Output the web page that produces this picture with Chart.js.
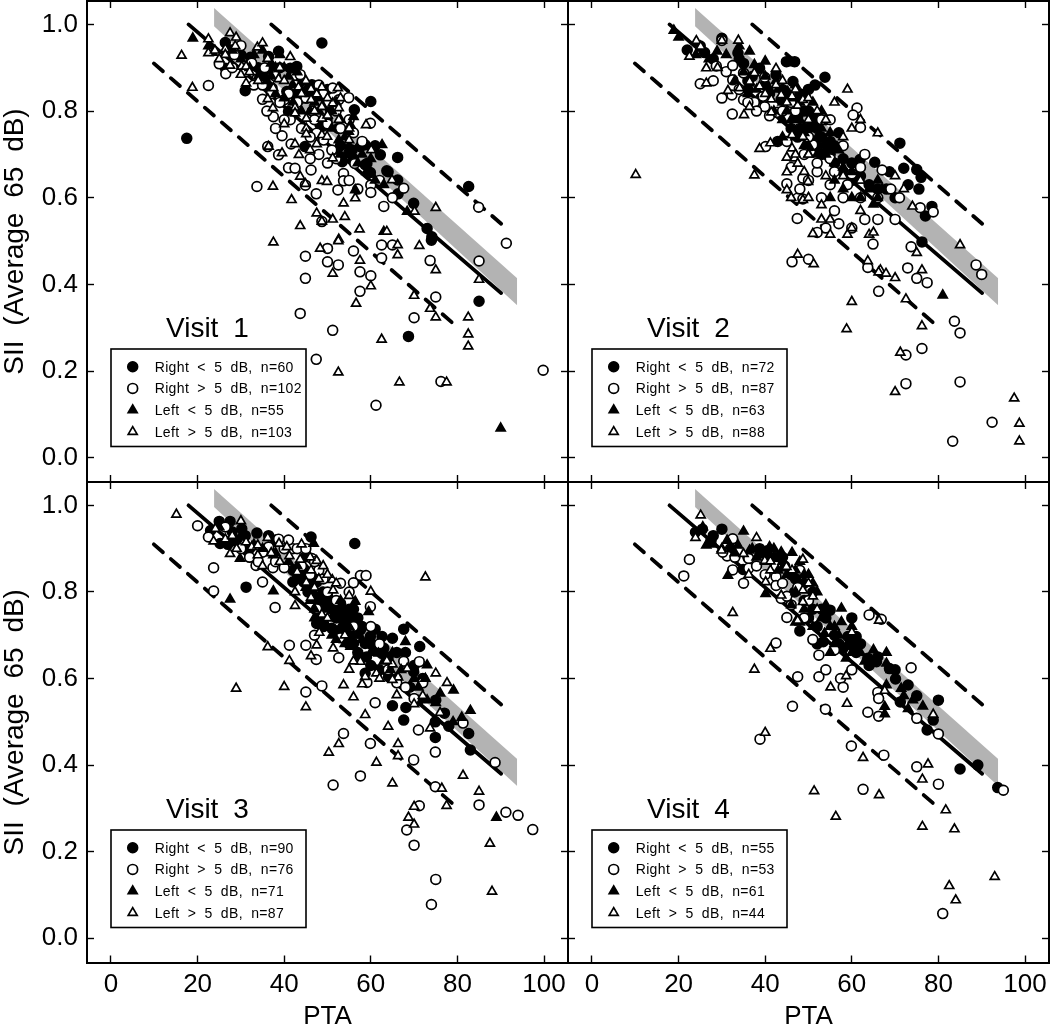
<!DOCTYPE html>
<html>
<head>
<meta charset="utf-8">
<title>SII vs PTA</title>
<script src="https://cdn.jsdelivr.net/npm/chart.js@4/dist/chart.umd.js"></script>
<style>
  html, body { margin: 0; padding: 0; background: #fff; overflow: hidden; width: 1050px; height: 1025px; }
  canvas { position: absolute; }
</style>
</head>
<body>
<canvas id="visit1"></canvas>
<canvas id="visit2"></canvas>
<canvas id="visit3"></canvas>
<canvas id="visit4"></canvas>
<script>
// tick labels
const xTicks = [0, 20, 40, 60, 80, 100];
const yTicks = [0, 0.2, 0.4, 0.6, 0.8, 1.0];

// reference lines, same on all four panels
const solidLine = [[17.9, 1.0], [90.1, 0.38]];
const upperDash = [[37, 1.0], [90.1, 0.54]];
const lowerDash = [[9.9, 0.91], [79, 0.31]];
const bandUpper = [[23.8, 1.038], [93.8, 0.414]];
const bandLower = [[23.8, 0.996], [93.8, 0.352]];

// legend text
const legendNames = ["Right < 5 dB", "Right > 5 dB", "Left < 5 dB", "Left > 5 dB"];
const v1Counts = [60, 102, 55, 103];
const v2Counts = [72, 87, 63, 88];
const v3Counts = [90, 76, 71, 87];
const v4Counts = [55, 53, 61, 44];

// Visit 1, [PTA, SII]
const v1RightLt = [[17.5,.737],[48.7,.957],[31,.847],[44.8,.718],[60,.822],[56.2,.803],[58.7,.722],[59.9,.658],[63.7,.662],[66.2,.693],[66.2,.641],[66.3,.609],[69.9,.587],[73,.529],[74.1,.51],[82.6,.626],[62.2,.699],[58.7,.676],[54.9,.703],[53.4,.683],[85,.361],[68.7,.28],[74,.502],[26.4,.958],[27.6,.941],[32.2,.924],[26.4,.899],[38.7,.938],[36.4,.926],[36.4,.899],[42.9,.903],[41.4,.899],[46.4,.861],[40.6,.845],[37.2,.853],[35.2,.88],[36,.86],[42.2,.84],[45.2,.83],[41,.799],[43.5,.826],[48.3,.768],[49,.765],[49.9,.78],[50.7,.803],[57.6,.718],[55.7,.71],[59.1,.679],[52.5,.76],[47.5,.84],[50,.85],[53,.72],[56,.69],[39,.9],[44,.87],[61,.72],[64,.66],[34,.9],[30,.93]];
const v1RightGt = [[22.5,.859],[25,.909],[26.5,.886],[30,.951],[32.5,.911],[33.7,.874],[35,.827],[40,.826],[43.7,.884],[42.5,.86],[37.5,.787],[41.4,.78],[39.5,.743],[36.2,.718],[38.7,.699],[41.6,.724],[41,.669],[42.5,.668],[46.2,.664],[33.7,.626],[44.9,.629],[47.4,.609],[48.7,.545],[47.5,.749],[49.1,.733],[51.2,.853],[52.6,.826],[54.9,.831],[59.9,.772],[56.3,.679],[53.7,.656],[53.7,.639],[52.4,.618],[60,.629],[60,.612],[67.6,.622],[84.9,.578],[91.3,.495],[44.9,.465],[44.9,.414],[50,.483],[50,.452],[52.5,.445],[43.7,.333],[51.2,.294],[47.4,.227],[61.2,.121],[56,.477],[57.5,.429],[60,.42],[57.5,.384],[62.5,.491],[62.5,.461],[65,.491],[70,.323],[75,.371],[73.7,.455],[85,.454],[76.2,.176],[99.8,.202],[28.5,.93],[35.5,.9],[38,.88],[45,.83],[46.5,.8],[48,.86],[50,.82],[44,.76],[46,.74],[40,.78],[31,.89],[33,.86],[35,.86],[37,.84],[39,.82],[41,.84],[43,.82],[47,.78],[49,.84],[50,.77],[52,.8],[53,.76],[55,.78],[56,.75],[58,.73],[51,.71],[48,.7],[46,.69],[50,.68],[52,.69],[55,.64],[57,.62],[62,.64],[65,.6],[63,.58],[28,.9],[36,.8],[38,.76]];
const v1LeftLt = [[18.9,.968],[22.5,.95],[23.5,.935],[62.6,.722],[56.4,.618],[63,.522],[68.4,.568],[90,.068],[56,.787],[55.3,.768],[54.9,.753],[52.6,.733],[35,.94],[37,.91],[39,.93],[41,.88],[43,.89],[45,.85],[47,.82],[48,.8],[50,.79],[52,.82],[54,.74],[58,.7],[60,.69],[36,.87],[38,.84],[40,.83],[42,.82],[44,.8],[46,.8],[51,.76],[53,.7],[28,.94],[30,.92],[32,.9],[33,.93],[34,.88],[37,.88],[38,.9],[40,.9],[42,.86],[44,.85],[46,.84],[48,.83],[49,.81],[51,.8],[53,.78],[55,.72],[57,.68],[59,.66],[61,.64],[63,.63]];
const v1LeftGt = [[16.3,.928],[18.8,.854],[22.5,.966],[22.5,.934],[27.5,.98],[28.9,.97],[26.4,.943],[28.7,.95],[26.4,.93],[27.5,.905],[30.2,.903],[31.2,.903],[30,.884],[31.2,.864],[33.8,.947],[35,.957],[36.2,.921],[41.4,.925],[38.7,.874],[37.5,.853],[43.3,.855],[36.2,.828],[37.4,.807],[40,.77],[42.5,.808],[42.5,.795],[46.2,.851],[47.5,.839],[48.7,.855],[46.2,.826],[48.7,.81],[45.1,.783],[48.7,.783],[45.1,.76],[45.1,.747],[48.7,.745],[47.5,.724],[42.5,.724],[43.4,.699],[39.5,.703],[36.4,.718],[43.7,.649],[44.9,.632],[48.7,.639],[49.9,.637],[37.4,.626],[41.7,.595],[47.5,.564],[48.7,.545],[43.7,.535],[37.5,.497],[52.4,.853],[51.2,.818],[52.6,.807],[52.6,.78],[58.9,.768],[55,.733],[49.9,.741],[60.1,.71],[51.2,.691],[64.9,.641],[56.4,.599],[53.7,.587],[54,.556],[51.2,.55],[57.4,.527],[63.7,.522],[52.6,.504],[70.1,.568],[75,.577],[48.3,.483],[52.5,.5],[57.5,.455],[51.2,.425],[60,.396],[56.6,.356],[66.2,.491],[66.2,.468],[71.2,.489],[75,.433],[85,.411],[70,.374],[73.7,.344],[75,.324],[82.5,.324],[82.5,.285],[82.5,.257],[62.5,.273],[52.5,.197],[66.6,.174],[77.5,.174],[24,.94],[25,.92],[32,.89],[34,.87],[39,.9],[40,.87],[44,.84],[45,.87],[50,.83],[50,.79],[53,.83],[47,.8],[55,.76],[46,.71]];

// Visit 2
const v2RightLt = [[22,.941],[26,.935],[30,.968],[33.7,.934],[35,.91],[38.7,.899],[42.5,.884],[36,.87],[36,.849],[46.4,.868],[44.9,.914],[46.8,.914],[43.7,.826],[47.5,.787],[42.9,.73],[48,.76],[50,.85],[51.5,.86],[53.8,.878],[48,.84],[49,.8],[51,.78],[52,.76],[53,.74],[49,.76],[50.5,.72],[54,.72],[55,.7],[57,.75],[56,.68],[58,.69],[60,.68],[61.9,.688],[65.3,.682],[68.7,.66],[72,.668],[71.1,.726],[75,.665],[76,.647],[75.5,.62],[77,.558],[78.5,.58],[76.2,.498],[73,.63],[40,.86],[41,.84],[44,.85],[39,.83],[45,.84],[47,.82],[48,.8],[50,.8],[52,.79],[54,.78],[46,.76],[47.5,.74],[50,.76],[53,.7],[52,.72],[55,.73],[56,.72],[58,.66],[60,.64],[62,.65],[64,.63],[66,.62],[68,.62],[70,.6],[37,.88],[34,.92],[28,.92],[25,.95]];
const v2RightGt = [[25,.863],[28.7,.904],[31,.891],[32.5,.905],[32.5,.872],[32.3,.837],[32.4,.793],[35,.888],[35,.826],[37.5,.82],[39.9,.878],[39.5,.834],[39.9,.81],[41,.789],[42.8,.797],[40.1,.718],[45,.73],[48.7,.645],[45,.632],[47.5,.599],[48.7,.597],[47.4,.552],[30,.963],[61.2,.807],[60.3,.791],[62,.762],[55,.78],[67,.664],[63,.7],[58,.72],[55,.69],[56,.66],[60,.655],[51,.722],[52,.66],[50,.64],[53,.6],[56,.57],[58,.6],[62,.6],[63,.55],[66,.55],[60,.53],[57,.54],[54,.53],[52,.52],[78.8,.567],[75.8,.577],[66,.6],[70,.55],[46.2,.452],[50,.458],[64.9,.493],[73.7,.487],[63.7,.439],[72.9,.438],[75,.414],[77.4,.404],[66.2,.384],[88.7,.445],[90,.423],[83.7,.315],[85,.288],[76.2,.252],[72.5,.237],[72.5,.171],[85,.175],[83.3,.038],[92.4,.082],[34,.85],[36,.82],[38,.8],[44,.8],[46,.82],[47,.8],[50,.74],[53,.78],[49,.7],[52,.68],[46,.67],[48,.62],[55,.63],[59,.63],[62,.67],[69,.62],[71,.6],[30,.83],[28,.87]];
const v2LeftLt = [[18.9,.986],[20,.97],[28.9,.938],[36.4,.938],[40,.915],[37.5,.907],[46.2,.911],[36.4,.864],[42.5,.87],[45.2,.845],[46.4,.745],[49,.75],[66,.64],[67,.62],[66,.6],[65,.585],[62,.6],[81,.375],[58,.62],[60,.6],[56,.64],[52,.7],[50,.72],[51,.82],[53,.8],[49,.84],[47,.86],[46,.78],[45,.8],[44,.74],[55,.75],[57,.71],[55,.6],[38,.85],[41,.85],[34,.95],[24,.93],[27,.92],[31,.93],[35,.89],[40,.88],[43,.85],[44,.82],[46,.83],[48,.82],[50,.8],[48,.78],[51,.77],[53,.76],[47,.74],[49,.72],[52,.74],[54,.7],[56,.68],[58,.67],[60,.66],[62,.64],[64,.62],[50,.7],[44,.78],[42,.8],[36,.84],[33,.87]];
const v2LeftGt = [[10.1,.653],[37.5,.652],[22.5,.926],[24.1,.962],[25.1,.949],[33.8,.963],[30,.963],[26.4,.899],[26.4,.864],[31.4,.847],[34.1,.853],[35.1,.791],[36.4,.81],[37.5,.888],[36.4,.868],[38.7,.857],[42.5,.898],[42.5,.86],[41.4,.827],[41.4,.797],[43.7,.837],[46.2,.834],[45,.82],[47.5,.813],[48.7,.826],[46.2,.745],[48.7,.741],[41.2,.726],[38.7,.713],[46.2,.714],[45,.693],[46.8,.691],[47.5,.679],[45,.659],[45,.618],[48.7,.595],[49.9,.637],[66,.749],[53,.583],[50,.7],[54,.65],[58,.65],[62,.64],[50,.6],[46,.6],[55,.55],[53,.55],[59,.515],[55,.515],[51,.517],[60,.53],[64,.515],[62,.57],[70,.65],[72,.62],[74,.58],[62,.78],[60,.76],[58,.74],[54,.78],[50,.78],[52,.8],[56,.82],[59,.85],[47,.7],[49,.66],[65,.52],[47.5,.469],[51.2,.447],[63.7,.454],[66.6,.433],[66.2,.428],[67.9,.425],[70,.415],[75,.473],[76.2,.433],[72.5,.366],[60,.36],[58.8,.297],[76.2,.304],[71.2,.243],[70,.152],[85,.491],[97.5,.137],[98.7,.079],[98.7,.038],[29,.9],[40,.84],[44,.87],[47,.85],[50,.83]];

// Visit 3
const v3RightLt = [[25,.963],[27.5,.963],[23,.942],[28,.939],[30.2,.946],[25.2,.912],[33.7,.936],[36.4,.93],[31.2,.811],[46.2,.927],[44.9,.881],[43,.831],[44.5,.823],[42,.823],[47.5,.823],[47.5,.727],[44.5,.854],[67.6,.714],[71.3,.674],[61,.714],[62.6,.697],[65,.693],[59.9,.697],[58.7,.681],[56,.681],[61,.666],[62.6,.658],[58.7,.612],[64.1,.604],[65,.537],[68.1,.533],[67.6,.504],[69.9,.616],[74.9,.5],[74.9,.464],[82.6,.473],[83,.435],[57.6,.712],[53.7,.75],[53,.774],[55,.76],[51,.716],[56.3,.912],[49,.8],[50,.77],[52,.74],[54,.72],[49,.72],[48,.76],[55,.7],[56,.73],[45.5,.8],[47,.79],[46,.82],[45,.84],[47,.84],[48,.78],[50,.79],[51,.76],[52,.76],[53,.76],[54,.74],[55,.74],[56,.76],[57,.74],[58,.72],[52,.71],[53,.7],[55,.68],[57,.66],[59,.65],[60,.68],[63,.67],[64,.65],[66,.66],[68,.66],[70,.63],[72,.6],[60,.63],[62,.62],[66,.6],[69,.58],[71,.55],[75,.55],[77,.52],[78,.49],[32,.9],[31,.93],[29,.92],[27,.91],[38,.92],[42,.85]];
const v3RightGt = [[20,.953],[22.5,.927],[23.7,.856],[23.7,.802],[26.4,.95],[35,.823],[37.9,.764],[41.2,.677],[45,.677],[47.4,.644],[48.7,.583],[45,.569],[37.4,.856],[40,.856],[33.5,.861],[38.7,.922],[36.4,.904],[35,.892],[46.4,.877],[47.5,.761],[57.6,.838],[58.9,.838],[56,.821],[59.9,.766],[53,.694],[52.6,.648],[67.6,.64],[71.2,.639],[59.1,.591],[70,.554],[61,.544],[53.7,.473],[59.9,.45],[74.9,.43],[69.9,.412],[71,.481],[81.3,.497],[88.7,.406],[57.6,.375],[51.3,.354],[74.9,.35],[71.2,.306],[68.3,.25],[70,.215],[75,.136],[74,.078],[85,.308],[91.2,.291],[94,.284],[97.4,.251],[42,.9],[44,.86],[46,.84],[48,.85],[50,.8],[52,.78],[47,.7],[30,.9],[32,.88],[34,.87],[38,.87],[40,.9],[41,.92],[43,.9],[45,.9],[47,.87],[49,.83],[53,.82],[55,.8],[56,.72],[60,.72],[62,.68],[64,.62],[66,.59],[68,.58],[72,.59]];
const v3LeftLt = [[29.8,.877],[37.5,.802],[27.5,.783],[29.8,.927],[46.8,.912],[37.5,.885],[43,.86],[48.7,.78],[68,.685],[73,.631],[72.6,.6],[79.1,.573],[76,.566],[75,.544],[83,.526],[81,.51],[79,.5],[55.3,.674],[56.4,.778],[61.8,.658],[64.5,.62],[59.5,.754],[89,.279],[50,.76],[52,.75],[53,.72],[51,.7],[47,.76],[49,.74],[57,.7],[25,.95],[28,.92],[33,.91],[35,.9],[38,.89],[41,.87],[44,.83],[45,.81],[46,.78],[48,.79],[47,.74],[50,.72],[51,.74],[53,.78],[54,.76],[55,.72],[56,.7],[58,.69],[59,.68],[60,.66],[63,.64],[65,.66],[67,.62],[70,.6],[71,.58],[73,.55],[49,.78],[52,.69],[54,.68],[57,.65]];
const v3LeftGt = [[15.1,.979],[30,.964],[24.1,.946],[23.7,.917],[26.4,.922],[27.5,.888],[31.2,.915],[32.5,.904],[33.9,.908],[33.9,.885],[35,.86],[36.2,.925],[38.8,.912],[40.6,.904],[41.2,.883],[43.7,.875],[47.5,.872],[43,.846],[46.2,.85],[45.1,.822],[42.5,.8],[46.2,.787],[42.5,.768],[48.7,.748],[48.1,.706],[36.2,.673],[47.5,.677],[46.2,.652],[41.2,.641],[40,.581],[28.9,.577],[45,.534],[72.6,.834],[60,.801],[51.1,.828],[51.3,.804],[55,.791],[57.6,.639],[51.3,.67],[55,.621],[58.7,.604],[61.3,.612],[65,.633],[68.4,.623],[63.7,.641],[66.3,.603],[65,.597],[53.7,.585],[58,.587],[56,.557],[58.7,.516],[64,.489],[52.6,.449],[50.3,.429],[66.3,.449],[66.3,.421],[61.3,.406],[65,.358],[73.7,.485],[70,.541],[66,.562],[75,.612],[77.6,.59],[76,.521],[81.3,.376],[85,.339],[76.4,.346],[70,.304],[68.7,.279],[70,.263],[77.5,.306],[87.5,.219],[88,.108],[28,.93],[29,.9],[37,.89],[39,.87],[44,.91],[46,.88],[48,.83],[49,.86],[50,.84],[52,.82],[47,.81],[50,.74],[54,.7],[56,.64],[62,.6],[72,.56]];

// Visit 4
const v4RightLt = [[23.9,.938],[25.5,.945],[27.5,.919],[30,.945],[34.9,.852],[38.7,.9],[42.5,.881],[40.5,.895],[46.8,.8],[44.5,.86],[60,.74],[55,.758],[59.1,.697],[61,.697],[59.9,.677],[53.4,.685],[63.7,.647],[65.7,.639],[68.7,.623],[70.1,.599],[73,.585],[71.2,.546],[80,.55],[78.8,.504],[77.4,.481],[89.1,.4],[85,.391],[93.7,.348],[49,.78],[51,.76],[50,.74],[52,.72],[47,.83],[48,.71],[61,.66],[58,.67],[52,.68],[28,.93],[32,.9],[36,.88],[39,.89],[41,.88],[44,.88],[46,.84],[49,.82],[51,.8],[53,.76],[54,.74],[56,.7],[57,.68],[62,.68],[64,.63],[66,.65],[70,.62],[75,.56]];
const v4RightGt = [[22.5,.875],[21.2,.837],[32.5,.923],[31.2,.883],[32.5,.851],[30.2,.892],[36.2,.877],[36.2,.855],[42.5,.835],[42.5,.815],[42.5,.86],[43.7,.785],[45,.741],[42.5,.682],[47.5,.604],[46.3,.536],[47.5,.81],[64,.747],[66.8,.737],[52.4,.654],[56,.666],[60,.62],[57.4,.6],[52.4,.604],[73.7,.625],[66,.568],[66.2,.554],[63.7,.522],[66.2,.513],[75,.508],[80,.472],[53.9,.529],[59.9,.444],[67.4,.423],[75,.396],[80,.356],[62.6,.344],[95,.342],[81,.057],[38.8,.46],[50,.78],[46,.77],[48,.85],[33,.88],[38,.86],[40,.84],[44,.82],[45,.79],[49,.74],[51,.69],[54,.62],[58,.58],[35,.82]];
const v4LeftLt = [[25.6,.95],[26.4,.908],[31.4,.838],[31.2,.919],[35,.94],[33.7,.908],[36.4,.896],[40.1,.796],[41,.904],[43.7,.892],[46.2,.891],[47,.73],[57.6,.762],[57.6,.731],[56,.68],[65,.666],[68,.66],[58.7,.647],[68,.635],[68,.585],[71.4,.577],[74.1,.55],[76.4,.536],[67.6,.535],[67.6,.518],[53.7,.704],[48,.87],[50,.84],[52,.8],[49,.76],[47,.8],[54,.77],[51,.72],[56,.72],[45,.84],[43,.85],[38,.88],[28,.91],[30,.9],[33,.89],[37,.9],[40,.87],[42,.9],[44,.87],[47,.85],[49,.84],[51,.82],[53,.74],[55,.72],[57,.7],[59,.68],[60,.66],[62,.66],[63,.64],[69,.62],[72,.56],[73,.53],[46,.77],[48,.73],[55,.66],[60,.72]];
const v4LeftGt = [[25.1,.977],[23.9,.925],[29.9,.896],[35,.888],[38,.925],[39.9,.872],[41.2,.871],[41.2,.85],[36.2,.84],[43.7,.792],[40.1,.823],[46.2,.85],[48.7,.875],[44.9,.858],[48.7,.804],[48.7,.777],[47.5,.734],[32.5,.752],[41.2,.669],[37.5,.621],[40,.475],[66.3,.734],[60,.707],[58.7,.606],[55.1,.58],[67.6,.572],[58.9,.542],[78.8,.517],[62.6,.417],[77.6,.402],[76.3,.367],[51.3,.34],[66.3,.331],[56.3,.281],[81.7,.296],[76.3,.258],[83.7,.252],[82.5,.121],[84,.088],[93,.142],[50,.82],[52,.76],[51,.79]];

const visits = [
  { id: "visit1", name: "Visit 1", counts: v1Counts, series: [v1RightLt, v1RightGt, v1LeftLt, v1LeftGt], col: 0, row: 0 },
  { id: "visit2", name: "Visit 2", counts: v2Counts, series: [v2RightLt, v2RightGt, v2LeftLt, v2LeftGt], col: 1, row: 0 },
  { id: "visit3", name: "Visit 3", counts: v3Counts, series: [v3RightLt, v3RightGt, v3LeftLt, v3LeftGt], col: 0, row: 1 },
  { id: "visit4", name: "Visit 4", counts: v4Counts, series: [v4RightLt, v4RightGt, v4LeftLt, v4LeftGt], col: 1, row: 1 }
];

const colEdges = [87, 568, 1049];
const rowEdges = [1, 482, 962.5];
const FONT = '"Liberation Sans", sans-serif';
const markStyles = [
  { pointStyle: "circle", fill: "#000", radius: 4.9 },
  { pointStyle: "circle", fill: "#fff", radius: 4.9 },
  { pointStyle: "triangle", fill: "#000", radius: 5.2 },
  { pointStyle: "triangle", fill: "#fff", radius: 5.2 }
];
const MARK_W = 1.7;

function toPoints(list) {
  return list.map(p => ({ x: p[0], y: p[1] }));
}

function markDataset(list, i) {
  return {
    data: toPoints(list),
    pointStyle: markStyles[i].pointStyle,
    pointRadius: markStyles[i].radius,
    pointBorderWidth: MARK_W,
    pointBackgroundColor: markStyles[i].fill,
    pointBorderColor: "#000",
    showLine: false
  };
}

function lineDataset(list, dash) {
  return {
    data: toPoints(list),
    showLine: true,
    pointRadius: 0,
    borderColor: "#000",
    borderWidth: 3.8,
    borderDash: dash,
    borderCapStyle: "round",
    fill: false
  };
}

// the y title has wide gaps between words, tick labels have no spaces
const wideWords = {
  id: "wideWords",
  beforeDraw(chart) {
    chart.ctx.wordSpacing = "7px";
  }
};

// legend box and the "Visit n" title, inside the plot
const panelNotes = {
  id: "panelNotes",
  afterDatasetsDraw(chart, args, opts) {
    const ctx = chart.ctx;
    const a = chart.chartArea;
    ctx.save();
    ctx.fillStyle = "#000";
    ctx.textAlign = "left";
    ctx.textBaseline = "alphabetic";
    ctx.font = "28px " + FONT;
    ctx.wordSpacing = "7px";
    ctx.fillText(opts.name, a.left + 79, a.top + 336);

    ctx.fillStyle = "#fff";
    ctx.strokeStyle = "#000";
    ctx.lineWidth = 1.6;
    ctx.fillRect(a.left + 24, a.top + 348, 195, 97.5);
    ctx.strokeRect(a.left + 24, a.top + 348, 195, 97.5);

    ctx.font = "14px " + FONT;
    ctx.wordSpacing = "4px";
    ctx.letterSpacing = "0.35px";
    legendNames.forEach((name, i) => {
      const y = a.top + 365.7 + i * 21.7;
      ctx.fillStyle = markStyles[i].fill;
      ctx.strokeStyle = "#000";
      ctx.lineWidth = MARK_W;
      Chart.helpers.drawPoint(ctx, { pointStyle: markStyles[i].pointStyle, radius: markStyles[i].radius, borderWidth: MARK_W, rotation: 0 }, a.left + 45.7, y);
      ctx.fillStyle = "#000";
      ctx.fillText(name + ", n=" + opts.counts[i], a.left + 67.7, y + 5);
    });
    ctx.restore();
  }
};

function makeAxis(position, ticks, range, size, withLabels, title) {
  const horizontal = position === "bottom" || position === "top";
  return {
    type: "linear",
    position: position,
    min: range[0],
    max: range[1],
    afterBuildTicks: s => { s.ticks = ticks.map(v => ({ value: v })); },
    afterFit: s => {
      if (horizontal) s.height = size; else s.width = size;
      s.paddingLeft = s.paddingRight = s.paddingTop = s.paddingBottom = 0;
    },
    border: { display: true, width: 2, color: "#000" },
    grid: { drawOnChartArea: false, drawTicks: true, tickLength: -7, tickWidth: 1.4, tickColor: "#000" },
    ticks: {
      display: withLabels,
      color: "#000",
      autoSkip: false,
      maxRotation: 0,
      padding: horizontal ? 14 : 16,
      font: { family: FONT, size: 26 },
      callback: v => horizontal ? String(v) : v.toFixed(1)
    },
    title: title ? {
      display: true,
      text: title,
      color: "#000",
      font: { family: FONT, size: horizontal ? 26 : 28 },
      padding: horizontal ? { top: 0, bottom: -7 } : { top: -2, bottom: 0 }
    } : { display: false }
  };
}

visits.forEach(v => {
  const canvas = document.getElementById(v.id);
  const L = colEdges[v.col], R = colEdges[v.col + 1];
  const T = rowEdges[v.row], B = rowEdges[v.row + 1];
  const leftAxis = v.col === 0 ? 87 : 0;
  const bottomAxis = v.row === 1 ? 1025 - B : 0;
  const pad = 4;

  // canvas covers the panel plus its axis labels
  const cLeft = L - leftAxis - (leftAxis ? 0 : pad);
  const cTop = T - pad;
  const cWidth = R + pad - cLeft;
  const cHeight = B + bottomAxis + (bottomAxis ? 0 : pad) - cTop;
  canvas.style.left = cLeft + "px";
  canvas.style.top = cTop + "px";
  canvas.width = cWidth;
  canvas.height = cHeight;

  const xRange = [-5.54, 105.54];
  const yRange = [-0.056, 1.054];

  new Chart(canvas, {
    type: "scatter",
    data: {
      datasets: [
        markDataset(v.series[3], 3),
        markDataset(v.series[2], 2),
        markDataset(v.series[1], 1),
        markDataset(v.series[0], 0),
        lineDataset(solidLine, []),
        lineDataset(upperDash, [12, 10.5]),
        lineDataset(lowerDash, [12, 10.5]),
        { data: toPoints(bandUpper), showLine: true, pointRadius: 0, borderWidth: 0, backgroundColor: "#b3b3b3", fill: "+1" },
        { data: toPoints(bandLower), showLine: true, pointRadius: 0, borderWidth: 0, fill: false }
      ]
    },
    options: {
      responsive: false,
      animation: false,
      events: [],
      layout: { autoPadding: false, padding: { left: leftAxis ? 0 : pad, top: pad, right: pad, bottom: bottomAxis ? 0 : pad } },
      plugins: {
        legend: { display: false },
        tooltip: { enabled: false },
        panelNotes: { name: v.name, counts: v.counts }
      },
      scales: {
        x: makeAxis("bottom", xTicks, xRange, bottomAxis, v.row === 1, v.row === 1 ? "PTA" : null),
        x2: makeAxis("top", xTicks, xRange, 0, false, null),
        y: makeAxis("left", yTicks, yRange, leftAxis, v.col === 0, v.col === 0 ? "SII (Average 65 dB)" : null),
        y2: makeAxis("right", yTicks, yRange, 0, false, null)
      }
    },
    plugins: [wideWords, panelNotes]
  });
});
</script>
</body>
</html>
